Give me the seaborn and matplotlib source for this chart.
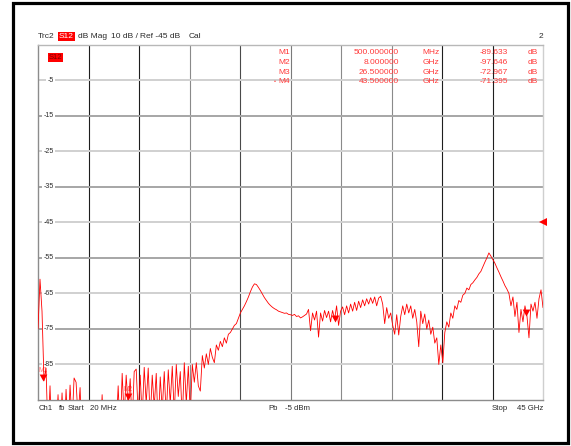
import numpy as np
import pandas as pd
import matplotlib
matplotlib.use("Agg")
import matplotlib.pyplot as plt
import matplotlib.transforms as mtransforms
from matplotlib.patches import Rectangle
import seaborn as sns

# ---------------- data ----------------
start_ghz = 0.02
stop_ghz = 45.0
ref_db = -45
top_db = 5
bottom_db = -95

# trace, one value every ~0.18 GHz, in dB
seg_a = [-75, -61, -70, -89.6, -86, -105, -91, -108, -110, -104, -93.5, -106]
seg_b = [-93, -107, -92, -104, -90.8, -102, -88.8, -90, -100, -91.5,
         -108, -110, -106, -109, -110, -108, -110, -107, -110, -106,
         -93.5, -108, -110, -109, -110, -107, -110, -104, -91, -105]
seg_c = [-87.5, -100, -88, -97, -89, -102, -87, -86.3, -99, -88,
         -100, -85.8, -96, -86, -101, -88, -97, -87.5, -103, -88.5,
         -98, -87, -100, -86.5, -96, -85.5, -99, -85, -94, -87,
         -101, -84.5, -96, -85.5, -99]
seg_d = [-85, -90, -84.5, -91, -92.5, -82.5, -86, -82, -85, -80.5,
         -83, -84.5, -79.5, -81, -78.5, -80, -77.5, -79, -76.5, -76,
         -75, -74, -73.5, -72, -70.5]
seg_e = [-69.5, -68.5, -67.3, -66, -64.5, -63.2, -62.3, -62.5, -63.3, -64.2,
         -65.2, -66.2, -67, -67.8, -68.4, -68.9, -69.3, -69.6, -70, -70.2,
         -70.4, -70.6, -70.5, -70.9, -71]
seg_f = [-71.2, -70.9, -71.5, -71.3, -71.9, -71.6, -71.2, -70.8, -69.5, -75.5,
         -70.5, -72.5, -70, -77.3, -70.5, -72.8, -69.8, -71.8, -70, -73,
         -69.8, -72.3, -68.5, -74, -70]
seg_g = [-68.8, -71, -68.5, -70.5, -68, -70, -67.5, -69.8, -67.2, -69,
         -66.8, -68.5, -66.5, -68, -66.2, -67.8, -66, -68.5, -66.3, -65.8,
         -68, -73.5, -69, -72, -70.5, -74, -76.5, -71, -76.7, -71.5,
         -68.5, -71, -68, -70.5, -68.5, -72, -69.5, -73, -80]
seg_h = [-70, -73.5, -70.8, -75, -72.5, -76.5, -74.5, -79, -77.5, -85,
         -79.5, -84.5, -76, -73, -74.5, -70.5, -72]
seg_i = [-68.5, -69.5, -67, -67.5, -65.5, -65, -63.5, -64, -62.5, -62,
         -61.2, -60.5, -59.5, -58.8, -57.5, -56.2, -55, -53.6, -54.5]
seg_j = [-55.5, -56.5, -57.8, -59, -60.3, -61.5, -62.8, -63.8, -65, -68.5,
         -66, -71.5, -67.5, -76, -69.5, -73, -68.5, -71.4, -77.5, -68,
         -70, -67.5, -72, -66.5, -64, -69]

trace_db = seg_a + seg_b + seg_c + seg_d + seg_e + seg_f + seg_g + seg_h + seg_i + seg_j
# linear sweep points from start to stop frequency
freq_ghz = np.linspace(start_ghz, stop_ghz, len(trace_db))

y_label_values = [-5, -15, -25, -35, -45, -55, -65, -75, -85]

marker_names = ["M1", "M2", "M3", "M4"]
marker_freq_ghz = [0.5, 8.0, 26.5, 43.5]
marker_freq_text = ["500.000000", "8.000000", "26.500000", "43.500000"]
marker_units = ["MHz", "GHz", "GHz", "GHz"]
marker_db = [-89.633, -97.646, -72.967, -71.395]
marker_db_text = ["-89.633", "-97.646", "-72.967", "-71.395"]

# ---------------- figure ----------------
sns.set_theme(style="white")
plt.rcParams["font.family"] = ["Liberation Sans", "DejaVu Sans"]

W, H = 571, 446
fig = plt.figure(figsize=(W / 100, H / 100), dpi=100)
fig.patch.set_facecolor("white")

L, R, T, B = 38, 543, 44.7, 400
ax = fig.add_axes([L / W, 1 - B / H, (R - L) / W, (B - T) / H])
ax.set_facecolor("white")


def fx(px):
    return px / W


def fy(py):
    return 1 - py / H


RED = "#ff0000"
TXT = "#2a2a2a"
MRED = "#ff3a3a"

df = pd.DataFrame({"freq": freq_ghz, "db": trace_db})
sns.lineplot(data=df, x="freq", y="db", ax=ax, color=RED, lw=0.6,
             estimator=None, sort=False, legend=False, zorder=5)

ax.set_xlim(start_ghz, stop_ghz)
ax.set_ylim(bottom_db, top_db)
ax.set_xticks([])
ax.set_yticks([])
ax.set_xlabel("")
ax.set_ylabel("")

# grid
span = stop_ghz - start_ghz
vcolors = ["#1e1e1e", "#1e1e1e", "#8a8a8a", "#4a4a4a", "#7a7a7a",
           "#8a8a8a", "#8a8a8a", "#1e1e1e", "#1e1e1e"]
for k in range(1, 10):
    ax.axvline(start_ghz + k * span / 10, color=vcolors[k - 1], lw=0.8, zorder=1)
for i, v in enumerate(y_label_values):
    col = "#d0d0d0" if i % 2 == 0 else "#a6a6a6"
    ax.axhline(v, color=col, lw=1.4, zorder=1)

for side, col in [("top", "#b8b8b8"), ("right", "#cfcfcf"),
                  ("left", "#8c8c8c"), ("bottom", "#8c8c8c")]:
    ax.spines[side].set_color(col)
    ax.spines[side].set_linewidth(1.0)
    ax.spines[side].set_visible(True)

# y labels inside plot
btr = mtransforms.blended_transform_factory(ax.transAxes, ax.transData)
for v in y_label_values:
    ax.text((53.5 - L) / (R - L), v, f"{v}", transform=btr, ha="right",
            va="center", fontsize=5, color=TXT, zorder=3,
            bbox=dict(facecolor="white", edgecolor="none", pad=0.8))

# markers (triangles with tip on the value)
tri = [(-0.55, 1.0), (0.55, 1.0), (0.0, 0.0)]
shown_db = list(np.clip(marker_db, bottom_db, None))
ax.plot(marker_freq_ghz, shown_db, linestyle="none", marker=tri,
        markersize=10, color=RED, markeredgewidth=0, zorder=6, clip_on=False)
for name, f, d in zip(marker_names[:2], marker_freq_ghz[:2], shown_db[:2]):
    ax.annotate(name, (f, d), xytext=(0, 6.3), textcoords="offset points",
                ha="center", va="baseline", fontsize=4.8, color="#ff7070", zorder=4)

# reference level marker on right edge
ax.plot([stop_ghz], [ref_db], linestyle="none", marker="<", markersize=5.5,
        color=RED, markeredgewidth=0, zorder=6, clip_on=False)

# in-plot trace tag
fig.text(fx(49), fy(57.5), "S12", fontsize=5.5, color="#7a0000", ha="left",
         va="center", bbox=dict(facecolor=RED, edgecolor="none", pad=0.7))

# marker table
row_y = [53, 62.5, 72, 81.5]
for i in range(4):
    y = fy(row_y[i])
    fig.text(fx(290), y, marker_names[i], fontsize=6, color=MRED, ha="right", va="center")
    fig.text(fx(399), y, marker_freq_text[i], fontsize=6, color=MRED, ha="right", va="center")
    fig.text(fx(431), y, marker_units[i], fontsize=6, color=MRED, ha="center", va="center")
    fig.text(fx(508), y, marker_db_text[i], fontsize=6, color=MRED, ha="right", va="center")
    fig.text(fx(538), y, "dB", fontsize=6, color=MRED, ha="right", va="center")
fig.text(fx(275), fy(81.5), "\u2022", fontsize=4, color=MRED, ha="center", va="center")

# header line
hy = fy(36)
fig.text(fx(38), hy, "Trc2", fontsize=6, color=TXT, ha="left", va="center")
fig.text(fx(59), hy, "S12", fontsize=6, color="white", ha="left", va="center",
         bbox=dict(facecolor=RED, edgecolor="none", pad=0.7))
fig.text(fx(78), hy, "dB Mag", fontsize=6, color=TXT, ha="left", va="center")
fig.text(fx(111), hy, "10 dB /", fontsize=6, color=TXT, ha="left", va="center")
fig.text(fx(140), hy, "Ref -45 dB", fontsize=6, color=TXT, ha="left", va="center")
fig.text(fx(189), hy, "Cal", fontsize=6, color=TXT, ha="left", va="center")
fig.text(fx(541), hy, "2", fontsize=6, color=TXT, ha="center", va="center")

# footer line
by = fy(409)
fs = 5.6
fig.text(fx(38.5), by, "Ch1", fontsize=fs, color=TXT, ha="left", va="center")
fig.text(fx(58.5), by, "fb", fontsize=fs, color=TXT, ha="left", va="center")
fig.text(fx(67.5), by, "Start", fontsize=fs, color=TXT, ha="left", va="center")
fig.text(fx(90), by, "20 MHz", fontsize=fs, color=TXT, ha="left", va="center")
fig.text(fx(268), by, "Pb", fontsize=fs, color=TXT, ha="left", va="center")
fig.text(fx(285), by, "-5 dBm", fontsize=fs, color=TXT, ha="left", va="center")
fig.text(fx(492), by, "Stop", fontsize=fs, color=TXT, ha="left", va="center")
fig.text(fx(543), by, "45 GHz", fontsize=fs, color=TXT, ha="right", va="center")

# outer black frame
fig.patches.append(Rectangle((fx(12.5), fy(443)), (567.5 - 12.5) / W, (443 - 2.5) / H,
                             transform=fig.transFigure, fill=False,
                             edgecolor="black", linewidth=2.3, zorder=10))

fig.savefig("out.png", dpi=100, facecolor="white")
